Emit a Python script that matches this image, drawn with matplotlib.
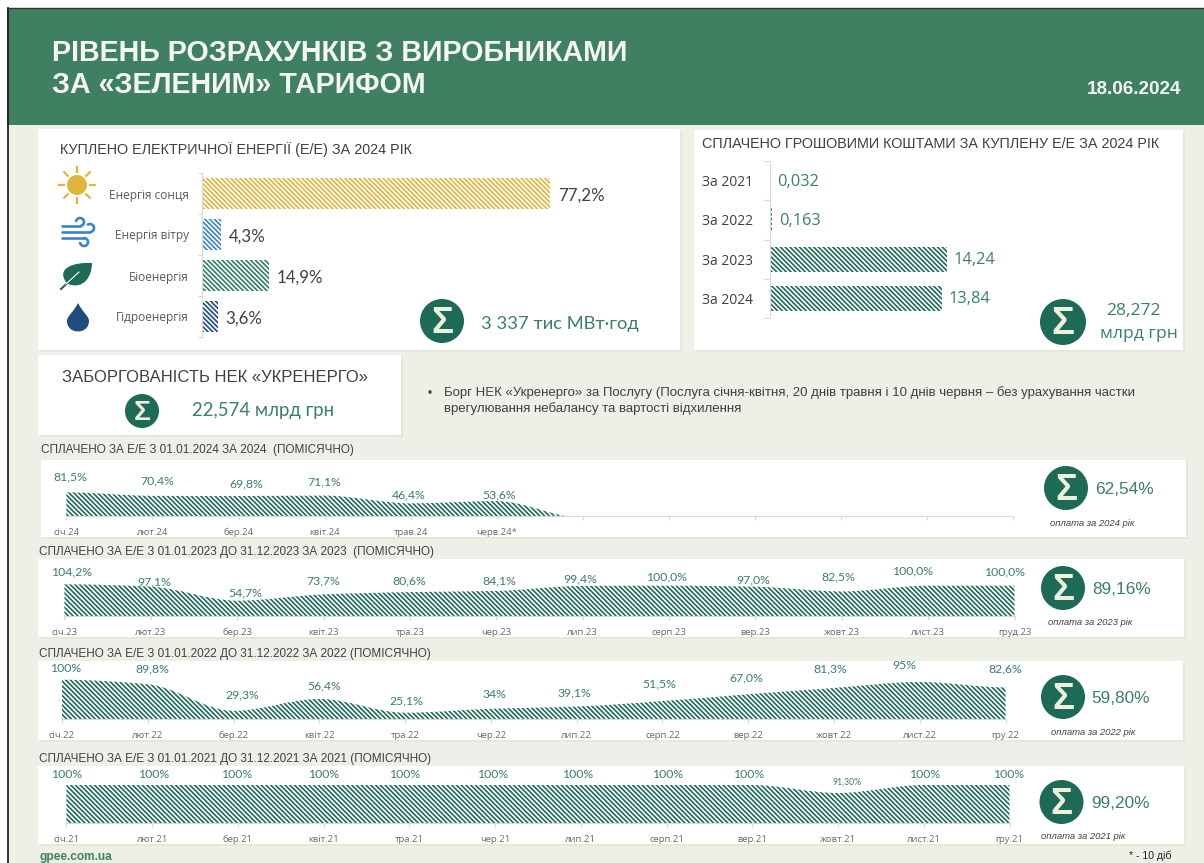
import matplotlib
matplotlib.use("Agg")
import numpy as np
import matplotlib.pyplot as plt
from matplotlib.patches import Rectangle, Circle, PathPatch, Arc
from matplotlib.path import Path

# --- data ---
energy_names = ["Енергія сонця", "Енергія вітру", "Біоенергія", "Гідроенергія"]
energy_values = [77.2, 4.3, 14.9, 3.6]
energy_labels = ["77,2%", "4,3%", "14,9%", "3,6%"]

paid_years = ["За 2021", "За 2022", "За 2023", "За 2024"]
paid_values = [0.032, 0.163, 14.24, 13.84]
paid_labels = ["0,032", "0,163", "14,24", "13,84"]

months_2024 = ["січ.24", "лют.24", "бер.24", "квіт.24", "трав.24", "черв.24*", "", "", "", "", "", ""]
values_2024 = [81.5, 70.4, 69.8, 71.1, 46.4, 53.6, 0, 0, 0, 0, 0, 0]
labels_2024 = ["81,5%", "70,4%", "69,8%", "71,1%", "46,4%", "53,6%"]

months_2023 = ["січ.23", "лют.23", "бер.23", "квіт.23", "тра.23", "чер.23", "лип.23", "серп.23", "вер.23", "жовт.23", "лист.23", "груд.23"]
values_2023 = [104.2, 97.1, 54.7, 73.7, 80.6, 84.1, 99.4, 100.0, 97.0, 82.5, 100.0, 100.0]
labels_2023 = ["104,2%", "97,1%", "54,7%", "73,7%", "80,6%", "84,1%", "99,4%", "100,0%", "97,0%", "82,5%", "100,0%", "100,0%"]

months_2022 = ["січ.22", "лют.22", "бер.22", "квіт.22", "тра.22", "чер.22", "лип.22", "серп.22", "вер.22", "жовт.22", "лист.22", "гру.22"]
values_2022 = [100, 89.8, 29.3, 56.4, 25.1, 34, 39.1, 51.5, 67.0, 81.3, 95, 82.6]
labels_2022 = ["100%", "89,8%", "29,3%", "56,4%", "25,1%", "34%", "39,1%", "51,5%", "67,0%", "81,3%", "95%", "82,6%"]

months_2021 = ["січ.21", "лют.21", "бер.21", "квіт.21", "тра.21", "чер.21", "лип.21", "серп.21", "вер.21", "жовт.21", "лист.21", "гру.21"]
values_2021 = [100, 100, 100, 100, 100, 100, 100, 100, 100, 91.3, 100, 100]
labels_2021 = ["100%", "100%", "100%", "100%", "100%", "100%", "100%", "100%", "100%", "91,30%", "100%", "100%"]

# hand placed label offsets (pixels from the point), like in the original slide
shift_x_2024 = [3.6, 4.5, 8, 0, -1.6, 3]
shift_y_2024 = [15.4, 14.8, 12, 13.6, 8.4, 6]
shift_x_2023 = [7.6, 3.3, 8.5, 0, -0.6, 3, -2.7, -2.5, -2.3, -3, -15.4, -9.7]
shift_y_2023 = [12.3, 4.6, 7.7, 13.4, 11, 10, 7, 8.7, 6.7, 14.5, 14.7, 13.7]
shift_x_2022 = [4, 4.8, 8.7, 4.7, 1, 3.5, -2.8, -3.6, -2.4, -3.8, -15.7, -0.8]
shift_y_2022 = [11.5, 15, 15.9, 12.6, 12, 13.8, 13.5, 17, 16.6, 19, 16.3, 18.4]
shift_x_2021 = [0, 1.3, -1.4, 0, -4.9, -2.4, -3.6, 0.7, -3.3, 8.8, 0.6, -0.8]
shift_y_2021 = [10.7] * 9 + [11] + [10.7] * 2

# --- styles ---
W, H = 1204, 863
BG = "#edf0e6"
HEADER = "#3f8062"
DARK = "#1d6a57"
GREEN_TXT = "#3b7f6b"
GREY_TXT = "#404040"
SUN = "#dfb53c"
WIND = "#3c83c6"
LEAF = "#2f7f63"
WATER = "#1f4e7e"
ARIAL = ["Liberation Sans", "DejaVu Sans"]
CALIBRI = ["Lato", "Noto Sans", "DejaVu Sans"]
SEGOE = ["Open Sans", "Noto Sans", "DejaVu Sans"]
HATCH = "\\" * 7
plt.rcParams["hatch.linewidth"] = 1.2

fig = plt.figure(figsize=(W / 100, H / 100), dpi=100, facecolor="white")
bg = fig.add_axes([0, 0, 1, 1], zorder=0)
bg.set_xlim(0, W)
bg.set_ylim(H, 0)
bg.axis("off")


def px_axes(x0, y0, x1, y1):
    ax = fig.add_axes([x0 / W, 1 - y1 / H, (x1 - x0) / W, (y1 - y0) / H], zorder=2)
    ax.patch.set_alpha(0)
    return ax


def panel(x0, y0, x1, y1):
    bg.add_patch(Rectangle((x0 + 2, y0 + 2), x1 - x0, y1 - y0, fc="#e3e7dc", ec="none", zorder=2))
    bg.add_patch(Rectangle((x0, y0), x1 - x0, y1 - y0, fc="white", ec="none", zorder=3))


def sigma(x, y, r):
    bg.add_patch(Circle((x, y), r, fc=DARK, ec="none", zorder=4))
    bg.text(x, y + r * 0.1, "Σ", color="#eef0dc", fontsize=r * 1.2, ha="center", va="center",
            family=ARIAL, weight="bold", zorder=5)


def put(x, y, s, size, color=GREY_TXT, family=ARIAL, **kw):
    kw.setdefault("va", "center")
    kw.setdefault("zorder", 6)
    bg.text(x, y + 1, s, fontsize=size, color=color, family=family, **kw)


def smooth_area(x, y, floor):
    # monotone cubic through the monthly values, flat at local peaks, as an Excel smoothed area looks
    x = np.array(x, dtype=float)
    y = np.array(y, dtype=float)
    d = np.diff(y)
    t = np.zeros(len(y))
    for i in range(1, len(y) - 1):
        if d[i - 1] * d[i] > 0:
            t[i] = 2 * d[i - 1] * d[i] / (d[i - 1] + d[i])
    verts = [(x[0], floor), (x[0], y[0])]
    codes = [Path.MOVETO, Path.LINETO]
    for i in range(len(y) - 1):
        verts += [(x[i] + 1 / 3, y[i] + t[i] / 3), (x[i + 1] - 1 / 3, y[i + 1] - t[i + 1] / 3), (x[i + 1], y[i + 1])]
        codes += [Path.CURVE4] * 3
    verts += [(x[-1], floor), (x[0], floor)]
    codes += [Path.LINETO, Path.CLOSEPOLY]
    return Path(verts, codes)


# --- page ---
bg.add_patch(Rectangle((7, 8), W, H, fc=BG, ec="none", zorder=1))
bg.add_patch(Rectangle((7, 8), W, 117, fc=HEADER, ec="none", zorder=1))
bg.plot([7.5, 7.5], [8, H], color="#222222", lw=1.3, zorder=2)
bg.plot([7.5, W], [8, 8], color="#333333", lw=1.0, zorder=2)
put(52, 52, "РІВЕНЬ РОЗРАХУНКІВ З ВИРОБНИКАМИ", 20.6, "#f4f6f2", weight="bold")
put(52, 84, "ЗА «ЗЕЛЕНИМ» ТАРИФОМ", 20.6, "#f4f6f2", weight="bold")
put(1181, 89, "18.06.2024", 13.6, "#f4f6f2", weight="bold", ha="right")

# --- bought energy ---
panel(38, 129, 680, 350)
put(60, 149, "КУПЛЕНО ЕЛЕКТРИЧНОЇ ЕНЕРГІЇ (Е/Е) ЗА 2024 РІК", 10.4)
ax = px_axes(201.5, 173, 680, 337)
ax.set_xlim(0, (680 - 201.5) / 4.51)
ax.set_ylim(3.5, -0.5)
bars = ax.barh(range(4), energy_values, height=0.76, color="white",
               edgecolor=[SUN, WIND, LEAF, WATER], hatch=HATCH, linewidth=0)
for b, lab in zip(bars, energy_labels):
    ax.annotate(lab, (b.get_width(), b.get_y() + b.get_height() / 2), xytext=(8, -2), textcoords="offset pixels",
                va="center", fontsize=12.2, color=GREY_TXT, family=CALIBRI)
ax.set_yticks(range(4), energy_names, fontsize=8.6, color="#595959", family=SEGOE)
ax.tick_params(axis="y", which="major", length=0, pad=9)
ax.set_yticks(np.arange(-0.5, 4), minor=True)
ax.tick_params(axis="y", which="minor", length=3, color="#d9d9d9", width=0.8)
ax.xaxis.set_visible(False)
for s in ["top", "right", "bottom"]:
    ax.spines[s].set_visible(False)
ax.spines["left"].set_color("#d9d9d9")
sigma(442, 321, 22)
put(481, 323, "3 337 тис МВт·год", 13.2, GREEN_TXT, CALIBRI)

# icons
bg.add_patch(Circle((77, 185), 10, fc=SUN, ec="none", zorder=5))
for a in np.arange(0, 360, 45):
    c, s = np.cos(np.radians(a)), np.sin(np.radians(a))
    bg.plot([77 + 13 * c, 77 + 18 * c], [185 + 13 * s, 185 + 18 * s], color=SUN, lw=1.6, zorder=5)
for (x0, x1, y) in [(62, 80, 226), (62, 90, 232), (62, 84, 238)]:
    bg.plot([x0, x1], [y, y], color=WIND, lw=1.9, zorder=5, solid_capstyle="round")
for (cx, cy, r, a0, a1) in [(80, 222, 4, 180, 90), (90, 228, 4, 225, 90), (84, 242, 4, 270, 180)]:
    bg.add_patch(Arc((cx, cy), 2 * r, 2 * r, theta1=a0, theta2=a1, color=WIND, lw=1.9, zorder=5))
bg.add_patch(PathPatch(Path([(66, 282), (56, 268), (74, 262), (92, 263), (92, 276), (84, 290), (68, 284), (66, 282)],
                            [Path.MOVETO, Path.CURVE4, Path.CURVE4, Path.CURVE4, Path.CURVE4, Path.CURVE4, Path.CURVE4, Path.CLOSEPOLY]),
                       fc=DARK, ec="none", zorder=5))
bg.plot([61, 79], [289, 272], color=DARK, lw=1.5, zorder=5)
bg.plot([66, 79], [284, 272], color="white", lw=0.8, zorder=6)
bg.add_patch(PathPatch(Path([(78, 303), (73, 313), (67, 316), (67, 321), (67, 335), (89, 335), (89, 321), (89, 316), (83, 313), (78, 303), (78, 303)],
                            [Path.MOVETO, Path.CURVE4, Path.CURVE4, Path.CURVE4, Path.CURVE4, Path.CURVE4, Path.CURVE4, Path.CURVE4, Path.CURVE4, Path.CURVE4, Path.CLOSEPOLY]),
                       fc=WATER, ec="none", zorder=5))

# --- paid money ---
panel(694, 130, 1183, 350)
put(702, 143, "СПЛАЧЕНО ГРОШОВИМИ КОШТАМИ ЗА КУПЛЕНУ Е/Е ЗА 2024 РІК", 10.4)
ax = px_axes(770, 161, 1180, 318)
ax.set_xlim(0, (1180 - 770) / 12.4)
ax.set_ylim(3.5, -0.5)
bars = ax.barh(range(4), paid_values, height=0.64, color="white", edgecolor=DARK, hatch=HATCH, linewidth=0)
for b, lab in zip(bars, paid_labels):
    ax.annotate(lab, (b.get_width(), b.get_y() + b.get_height() / 2), xytext=(7, -1), textcoords="offset pixels",
                va="center", fontsize=11.8, color=GREEN_TXT, family=SEGOE)
ax.set_yticks(range(4), paid_years, fontsize=10, color=GREY_TXT, family=SEGOE)
ax.tick_params(axis="y", which="major", length=0, pad=12)
ax.set_yticks(np.arange(-0.5, 4), minor=True)
ax.tick_params(axis="y", which="minor", length=4, color="#d9d9d9", width=0.8)
ax.xaxis.set_visible(False)
for s in ["top", "right", "bottom"]:
    ax.spines[s].set_visible(False)
ax.spines["left"].set_color("#d9d9d9")
sigma(1063, 322, 23)
put(1133, 310, "28,272", 12.6, GREEN_TXT, SEGOE, ha="center")
put(1139, 333, "млрд грн", 12.6, GREEN_TXT, SEGOE, ha="center")

# --- debt ---
panel(38, 355, 401, 435)
put(62, 376, "ЗАБОРГОВАНІСТЬ НЕК «УКРЕНЕРГО»", 12)
sigma(142, 411, 17)
put(192, 409, "22,574 млрд грн", 13.4, GREEN_TXT, CALIBRI)
put(427, 393, "•", 8.5)
put(444, 392, "Борг НЕК «Укренерго» за Послугу (Послуга січня-квітня, 20 днів травня і 10 днів червня – без урахування частки", 9.5)
put(444, 408, "врегулювання небалансу та вартості відхилення", 9.5)

# --- monthly areas ---
rows = [
    ("СПЛАЧЕНО ЗА Е/Е З 01.01.2024 ЗА 2024  (ПОМІСЯЧНО)", 41, 449, (41, 460, 1186, 537), 66.4, 1013, 516, 0.313, 6,
     values_2024, months_2024, labels_2024, shift_x_2024, shift_y_2024,
     (1066, 488, 22), "62,54%", 1124, 488, "оплата за 2024 рік", 1092, 522),
    ("СПЛАЧЕНО ЗА Е/Е З 01.01.2023 ДО 31.12.2023 ЗА 2023  (ПОМІСЯЧНО)", 39, 551, (38, 559, 1184, 637), 64.4, 1014.5, 616, 0.331, 8.4,
     values_2023, months_2023, labels_2023, shift_x_2023, shift_y_2023,
     (1063, 588, 22), "89,16%", 1122, 588, "оплата за 2023 рік", 1090, 621),
    ("СПЛАЧЕНО ЗА Е/Е З 01.01.2022 ДО 31.12.2022 ЗА 2022 (ПОМІСЯЧНО)", 39, 653, (38, 661, 1183, 740), 62, 1005.6, 719, 0.44, 10.8,
     values_2022, months_2022, labels_2022, shift_x_2022, shift_y_2022,
     (1063, 697, 22), "59,80%", 1121, 697, "оплата за 2022 рік", 1093, 731),
    ("СПЛАЧЕНО ЗА Е/Е З 01.01.2021 ДО 31.12.2021 ЗА 2021 (ПОМІСЯЧНО)", 39, 758, (38, 766, 1184, 844), 66.4, 1009.5, 823, 0.92, 58.7,
     values_2021, months_2021, labels_2021, shift_x_2021, shift_y_2021,
     (1061.5, 802, 22), "99,20%", 1121, 802, "оплата за 2021 рік", 1083, 835),
]

for (title, tx, ty, box, x0, x1, base, scale, floor, vals, months, labs, sx, sy,
     badge, total, total_x, total_y, note, note_x, note_y) in rows:
    put(tx, ty, title, 8.5)
    panel(*box)
    ymax = 112
    ax = px_axes(x0, base - scale * (ymax - floor), x1, base)
    ax.set_xlim(0, 11)
    ax.set_ylim(floor, ymax)
    ax.add_patch(PathPatch(smooth_area(range(12), vals, floor), fc="white", ec=DARK, hatch=HATCH, lw=0))
    for i, lab in enumerate(labs):
        small = lab == "91,30%"
        ax.annotate(lab, (i, vals[i]), xytext=(sx[i], sy[i]), textcoords="offset pixels", ha="center", va="center",
                    fontsize=6.2 if small else 8.8, color=GREEN_TXT, family=CALIBRI, annotation_clip=False)
    ax.set_xticks(range(12), months, fontsize=6.8, color="#6a6a6a", family=SEGOE)
    ax.tick_params(axis="x", length=3, color="#d9d9d9", width=0.8, pad=5.5)
    ax.yaxis.set_visible(False)
    for s in ["top", "left", "right"]:
        ax.spines[s].set_visible(False)
    ax.spines["bottom"].set_color("#d9d9d9")
    sigma(*badge)
    put(total_x, total_y, total, 12.4, GREEN_TXT, ARIAL, ha="center")
    put(note_x, note_y, note, 6.8, "#404040", ARIAL, ha="center", style="italic")

put(39, 856, "gpee.com.ua", 8.6, HEADER, ARIAL, weight="bold")
put(1171, 855, "* - 10 діб", 7.6, "#222222", ARIAL, ha="right")

fig.savefig("out.png", dpi=100, facecolor="white")
